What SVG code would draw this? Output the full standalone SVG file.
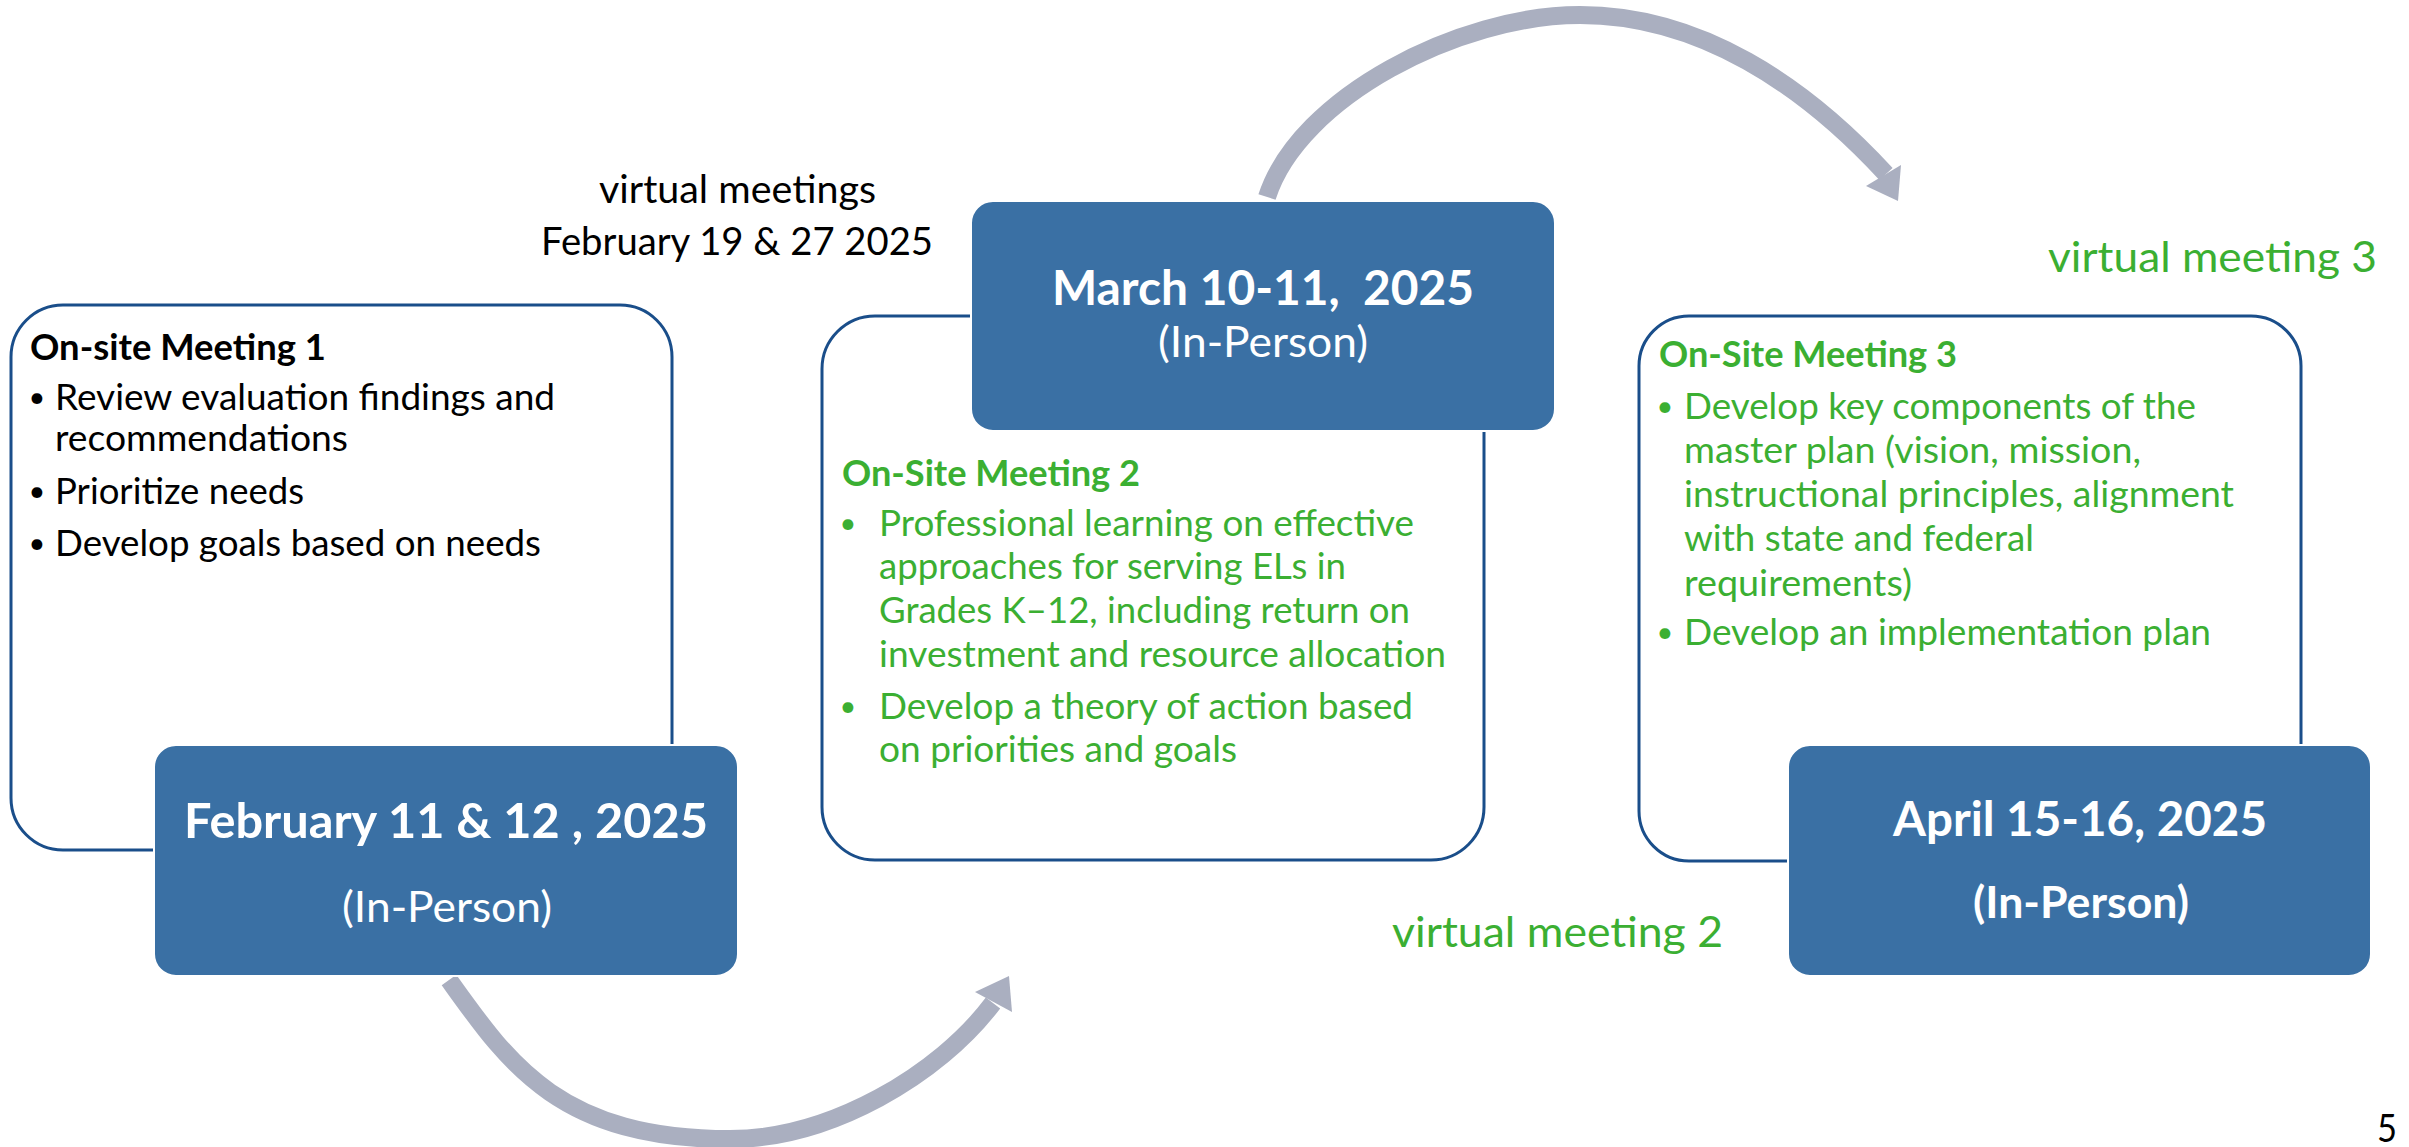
<svg xmlns="http://www.w3.org/2000/svg" width="2409" height="1147" viewBox="0 0 2409 1147">
<style>
.t{font-family:Lato,"Liberation Sans",sans-serif}
.b{font-weight:bold}
.outline{fill:#fff;stroke:#1A4E8A;stroke-width:3}
.date{fill:#3A70A4;stroke:#fff;stroke-width:2}
.blk{fill:#000}
.grn{fill:#3BAF32}
.wht{fill:#fff}
.body{font-size:36px}
.bul{font-size:29px}
.arc{fill:none;stroke:#AAAFC0;stroke-width:18}
.head{fill:#AAAFC0}
</style>
<rect width="2409" height="1147" fill="#fff"/>
<g id="connectors">
  <path class="arc" d="M1267,197 C1299,97 1460,15 1580,15 C1700,15 1804,85 1886,174"/>
  <polygon class="head" points="1866,186 1901,165 1898,201"/>
  <path class="arc" d="M449,980 C509,1064 560,1139 730,1139 C830,1139 939,1075 993,1003"/>
  <polygon class="head" points="975,992 1009,976 1012,1012"/>
</g>
<g id="meeting1">
  <rect class="outline" x="11" y="305" width="661" height="545" rx="52"/>
  <text class="t b blk" x="30" y="360" font-size="36" textLength="296" lengthAdjust="spacingAndGlyphs">On-site Meeting 1</text>
  <text class="t blk bul" x="37" y="407" text-anchor="middle">•</text>
  <text class="t blk body" x="55" y="410" textLength="500" lengthAdjust="spacingAndGlyphs">Review evaluation findings and</text>
  <text class="t blk body" x="55" y="451" textLength="293" lengthAdjust="spacingAndGlyphs">recommendations</text>
  <text class="t blk bul" x="37" y="501" text-anchor="middle">•</text>
  <text class="t blk body" x="55" y="504" textLength="249" lengthAdjust="spacingAndGlyphs">Prioritize needs</text>
  <text class="t blk bul" x="37" y="553" text-anchor="middle">•</text>
  <text class="t blk body" x="55" y="556" textLength="486" lengthAdjust="spacingAndGlyphs">Develop goals based on needs</text>
</g>
<g id="date1">
  <rect class="date" x="154" y="745" width="584" height="231" rx="22"/>
  <text class="t b wht" x="184" y="838" font-size="48" textLength="524" lengthAdjust="spacingAndGlyphs">February 11 &amp; 12 , 2025</text>
  <text class="t wht" x="342" y="922" font-size="43" textLength="210" lengthAdjust="spacingAndGlyphs">(In-Person)</text>
</g>
<g id="virtual1">
  <text class="t blk" x="599" y="203" font-size="38" textLength="277" lengthAdjust="spacingAndGlyphs">virtual meetings</text>
  <text class="t blk" x="541" y="255" font-size="38" textLength="392" lengthAdjust="spacingAndGlyphs">February 19 &amp; 27 2025</text>
</g>
<g id="meeting2">
  <rect class="outline" x="822" y="316" width="662" height="544" rx="53"/>
  <text class="t b grn" x="842" y="486" font-size="36" textLength="298" lengthAdjust="spacingAndGlyphs">On-Site Meeting 2</text>
  <text class="t grn bul" x="848" y="533" text-anchor="middle">•</text>
  <text class="t grn body" x="879" y="536" textLength="535" lengthAdjust="spacingAndGlyphs">Professional learning on effective</text>
  <text class="t grn body" x="879" y="579" textLength="467" lengthAdjust="spacingAndGlyphs">approaches for serving ELs in</text>
  <text class="t grn body" x="879" y="623" textLength="531" lengthAdjust="spacingAndGlyphs">Grades K–12, including return on</text>
  <text class="t grn body" x="879" y="667" textLength="567" lengthAdjust="spacingAndGlyphs">investment and resource allocation</text>
  <text class="t grn bul" x="848" y="716" text-anchor="middle">•</text>
  <text class="t grn body" x="879" y="719" textLength="534" lengthAdjust="spacingAndGlyphs">Develop a theory of action based</text>
  <text class="t grn body" x="879" y="762" textLength="358" lengthAdjust="spacingAndGlyphs">on priorities and goals</text>
</g>
<g id="date2">
  <rect class="date" x="971" y="201" width="584" height="230" rx="22"/>
  <text class="t b wht" x="1052" y="305" font-size="48" textLength="422" lengthAdjust="spacingAndGlyphs" xml:space="preserve">March 10-11,  2025</text>
  <text class="t wht" x="1158" y="357" font-size="43" textLength="210" lengthAdjust="spacingAndGlyphs">(In-Person)</text>
</g>
<g id="virtual2">
  <text class="t grn" x="1392" y="947" font-size="43" textLength="331" lengthAdjust="spacingAndGlyphs">virtual meeting 2</text>
</g>
<g id="meeting3">
  <rect class="outline" x="1639" y="316" width="662" height="545" rx="50"/>
  <text class="t b grn" x="1659" y="367" font-size="36" textLength="298" lengthAdjust="spacingAndGlyphs">On-Site Meeting 3</text>
  <text class="t grn bul" x="1665" y="416" text-anchor="middle">•</text>
  <text class="t grn body" x="1684" y="419" textLength="512" lengthAdjust="spacingAndGlyphs">Develop key components of the</text>
  <text class="t grn body" x="1684" y="463" textLength="457" lengthAdjust="spacingAndGlyphs">master plan (vision, mission,</text>
  <text class="t grn body" x="1684" y="507" textLength="550" lengthAdjust="spacingAndGlyphs">instructional principles, alignment</text>
  <text class="t grn body" x="1684" y="551" textLength="350" lengthAdjust="spacingAndGlyphs">with state and federal</text>
  <text class="t grn body" x="1684" y="596" textLength="228" lengthAdjust="spacingAndGlyphs">requirements)</text>
  <text class="t grn bul" x="1665" y="642" text-anchor="middle">•</text>
  <text class="t grn body" x="1684" y="645" textLength="527" lengthAdjust="spacingAndGlyphs">Develop an implementation plan</text>
</g>
<g id="date3">
  <rect class="date" x="1788" y="745" width="583" height="231" rx="22"/>
  <text class="t b wht" x="1893" y="836" font-size="48" textLength="374" lengthAdjust="spacingAndGlyphs">April 15-16, 2025</text>
  <text class="t b wht" x="1973" y="918" font-size="43" textLength="216" lengthAdjust="spacingAndGlyphs">(In-Person)</text>
</g>
<g id="virtual3">
  <text class="t grn" x="2048" y="272" font-size="43" textLength="329" lengthAdjust="spacingAndGlyphs">virtual meeting 3</text>
</g>
<g id="page">
  <text class="t blk" x="2377" y="1142" font-size="38" textLength="20" lengthAdjust="spacingAndGlyphs">5</text>
</g>
</svg>
